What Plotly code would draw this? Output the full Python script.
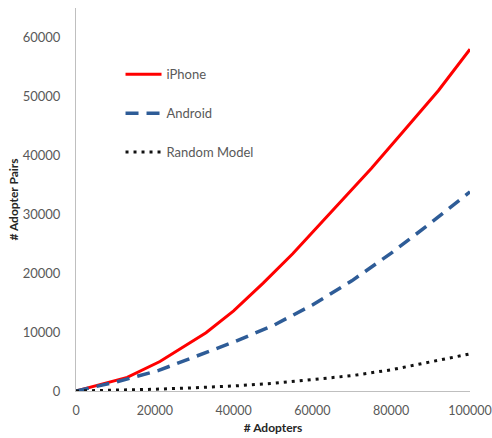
import plotly.graph_objects as go

# Data
iphone_x = [0, 13000, 21300, 33000, 40000, 47500, 55000, 65000, 75000, 83000, 92000, 100000]
iphone_y = [0, 2300, 5000, 9900, 13600, 18300, 23300, 30500, 37800, 44000, 51000, 58000]

android_x = [0, 10000, 21000, 30000, 40000, 50000, 60000, 70000, 80000, 90000, 100000]
android_y = [0, 1500, 3500, 5700, 8300, 11100, 14600, 18700, 23400, 28500, 33800]

random_x = [0, 10000, 20000, 30000, 40000, 50000, 60000, 70000, 80000, 87000, 100000]
random_y = [0, 100, 300, 550, 850, 1300, 1900, 2600, 3600, 4500, 6300]

x_ticks = [0, 20000, 40000, 60000, 80000, 100000]
y_ticks = [0, 10000, 20000, 30000, 40000, 50000, 60000]

FONT = "Lato"
GRAY = "#595959"

fig = go.Figure()
fig.add_trace(go.Scatter(x=iphone_x, y=iphone_y, mode="lines", name="iPhone",
                         legendgroup="a",
                         line=dict(color="#FF0000", width=3)))
fig.add_trace(go.Scatter(x=android_x, y=android_y, mode="lines", name="Android",
                         legendgroup="b",
                         line=dict(color="#2E5C97", width=3.5, dash="13px,8px")))
fig.add_trace(go.Scatter(x=random_x, y=random_y, mode="lines", name="Random Model",
                         legendgroup="c",
                         line=dict(color="#111111", width=3, dash="3px,5px")))

fig.update_layout(
    width=492, height=438,
    margin=dict(l=76, r=22, t=8, b=47),
    paper_bgcolor="white", plot_bgcolor="white",
    font=dict(family=FONT, size=13, color=GRAY),
    showlegend=True,
    legend=dict(x=0.113, y=0.866, xanchor="left", yanchor="top",
                bgcolor="rgba(0,0,0,0)", font=dict(size=13, color=GRAY),
                itemwidth=36, traceorder="grouped", tracegroupgap=19),
    xaxis=dict(range=[0, 100000], tickvals=x_ticks, ticktext=[str(v) for v in x_ticks],
               showgrid=False, zeroline=False, showline=True, linecolor="#BFBFBF",
               linewidth=1, ticks="", ticklabelstandoff=8, automargin=False,
               ticklabeloverflow="allow",
               tickfont=dict(size=12.5, color=GRAY),
               title=dict(text="<b># Adopters</b>", font=dict(size=12, color="#262626"),
                          standoff=6)),
    yaxis=dict(range=[0, 65000], tickvals=y_ticks, ticktext=[str(v) for v in y_ticks],
               showgrid=False, zeroline=False, showline=True, linecolor="#BFBFBF",
               linewidth=1, ticks="", ticklabelstandoff=12, automargin=False,
               tickfont=dict(size=13, color=GRAY),
               title=dict(text="<b># Adopter Pairs</b>", font=dict(size=12, color="#262626"),
                          standoff=1)),
)

fig.write_html("out.html",
               config={"displayModeBar": False},
               post_script="document.body.style.margin='0';document.body.style.overflow='hidden';")
